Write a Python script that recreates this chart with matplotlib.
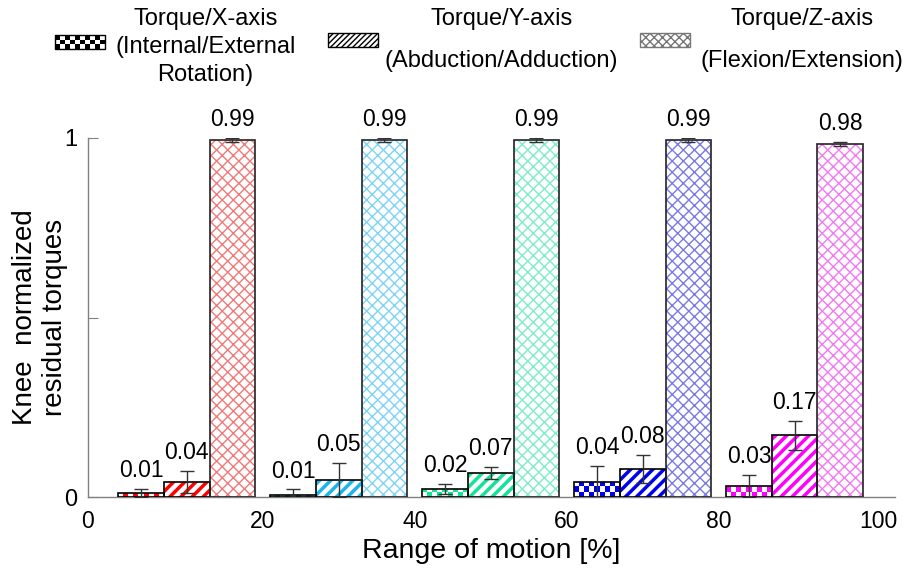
import numpy as np
import matplotlib
matplotlib.use("Agg")
from matplotlib import pyplot as plt
from matplotlib.colors import ListedColormap
from matplotlib.patches import Rectangle, Patch
from matplotlib.legend_handler import HandlerBase

plt.rcParams['font.family'] = ['Liberation Sans', 'DejaVu Sans']

# data
group_centers = [10, 30, 50, 70, 90]
torque_x = [0.011, 0.006, 0.022, 0.042, 0.031]
torque_y = [0.042, 0.047, 0.066, 0.078, 0.172]
torque_z = [0.994, 0.994, 0.994, 0.994, 0.984]
err_x = [0.011, 0.015, 0.014, 0.045, 0.031]
err_y = [0.031, 0.047, 0.017, 0.038, 0.040]
err_z = [0.005, 0.005, 0.005, 0.005, 0.006]
xtick_labels = ['0', '20', '40', '60', '80', '100']
legend_labels = ['Torque/X-axis\n(Internal/External\nRotation)',
                 'Torque/Y-axis\n(Abduction/Adduction)',
                 'Torque/Z-axis\n(Flexion/Extension)']

main_colors = ['#ff0000', '#1cb4ec', '#12e496', '#0000f0', '#ff00ff']
light_colors = ['#f07a7a', '#7ed4f4', '#7eecc6', '#7a7ae6', '#f27af2']

bar_w = 6.0
x_lim = (-3.0, 103.2)


class CheckerHandler(HandlerBase):
    def create_artists(self, legend, orig_handle, xdescent, ydescent,
                       width, height, fontsize, trans):
        nx, ny = 10, 3
        y0 = -ydescent + 0.22 * fontsize  # lift it a bit, like the reference
        arts = []
        for i in range(nx):
            for j in range(ny):
                if (i + j) % 2 == 0:
                    arts.append(Rectangle((-xdescent + i * width / nx, y0 + j * height / ny),
                                          width / nx, height / ny, facecolor='black',
                                          edgecolor='none', transform=trans))
        arts.append(Rectangle((-xdescent, y0), width, height, fill=False,
                              edgecolor='black', lw=1, transform=trans))
        return arts


def set_hatch_lw(container, lw):
    for b in container:
        if hasattr(b, 'set_hatch_linewidth'):
            b.set_hatch_linewidth(lw)


fig = plt.figure(figsize=(9.04, 5.72), dpi=100)
ax = fig.add_axes([88 / 904, 75 / 572, 807 / 904, 359 / 572])

xc = np.array(group_centers, dtype=float)
xs = xc - bar_w
ys = xc
zs = xc + bar_w

# X bars: checker pattern clipped to the bar
outline_x = ax.bar(xs, torque_x, bar_w, fill=False, edgecolor='black', lw=1.2, zorder=3)
for bar, col in zip(outline_x, main_colors):
    x0, w, h = bar.get_x(), bar.get_width(), bar.get_height()
    nx = 9
    cell_h = 0.014
    ny = int(np.ceil(h / cell_h)) + 1
    arr = np.add.outer(np.arange(ny), np.arange(nx)) % 2
    im = ax.imshow(arr, cmap=ListedColormap(['white', col]), extent=(x0, x0 + w, 0, ny * cell_h),
                   origin='lower', aspect='auto', interpolation='nearest', zorder=2)
    im.set_clip_path(bar)

# Y bars: diagonal stripes
hy = ax.bar(ys, torque_y, bar_w, facecolor='white', edgecolor=main_colors, hatch='///', lw=0, zorder=2)
set_hatch_lw(hy, 2.5)
ax.bar(ys, torque_y, bar_w, fill=False, edgecolor='black', lw=1.2, zorder=3)

# Z bars: light cross hatch
hz = ax.bar(zs, torque_z, bar_w, facecolor='white', edgecolor=light_colors, hatch='xxx', lw=0, zorder=2)
set_hatch_lw(hz, 1.0)
ax.bar(zs, torque_z, bar_w, fill=False, edgecolor='#222222', lw=1.2, zorder=3)

for pos, vals, errs in [(xs, torque_x, err_x), (ys, torque_y, err_y), (zs, torque_z, err_z)]:
    ax.errorbar(pos, vals, yerr=errs, fmt='none', ecolor='#333333', elinewidth=1,
                capsize=5, capthick=1, zorder=4)
    for p, v, e in zip(pos, vals, errs):
        ax.annotate(f"{v:.2f}", (p, v + e), xytext=(0, 5), textcoords='offset points',
                    ha='center', va='bottom', fontsize=16.5, annotation_clip=False)

ax.set_xlim(*x_lim)
ax.set_ylim(0, 1)
ax.set_xticks([x_lim[0], 20, 40, 60, 80, 101])
ax.set_xticklabels(xtick_labels)
ax.set_yticks([0, 0.5, 1])
ax.set_yticklabels(['0', '', '1'])
ax.tick_params(axis='x', length=0, labelsize=16.5, pad=9)
ax.tick_params(axis='y', direction='in', length=7, color='#808080', labelsize=17, pad=8)
for s in ['top', 'right']:
    ax.spines[s].set_visible(False)
for s in ['left', 'bottom']:
    ax.spines[s].set_color('#808080')
    ax.spines[s].set_linewidth(1)

ax.set_xlabel('Range of motion [%]', fontsize=20.5, labelpad=4)
ax.set_ylabel('Knee  normalized\nresidual torques', fontsize=20, multialignment='center')
ax.yaxis.set_label_coords(-0.025, 0.5)

# legend: one entry per box, placed like the reference
handles = [Rectangle((0, 0), 1, 1),
           Patch(facecolor='white', edgecolor='black', hatch='//////'),
           Patch(facecolor='white', edgecolor='#777777', hatch='xxxx')]
legend_x = [55 / 904, 328 / 904, 640 / 904]
legend_pad = [0.45, 0.3, 0.45]
legend_ls = [1.35, 2.15, 2.15]
for h, lab, lx, pad, ls in zip(handles, legend_labels, legend_x, legend_pad, legend_ls):
    leg = fig.legend([h], [lab], loc='upper left', bbox_to_anchor=(lx, 1 - 8 / 572),
                     frameon=False, fontsize=17, handlelength=2.1, handleheight=0.55,
                     handletextpad=pad, borderpad=0, borderaxespad=0,
                     handler_map={Rectangle: CheckerHandler()})
    for t in leg.get_texts():
        t.set_multialignment('center')
        t.set_linespacing(ls)

fig.savefig('out.png', dpi=100)
